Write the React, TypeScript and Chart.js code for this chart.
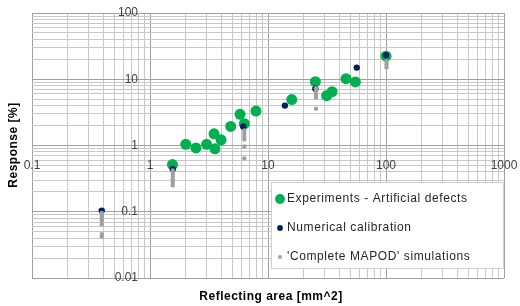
import React, { useEffect, useRef } from "react";
import { Chart, registerables } from "chart.js";

Chart.register(...registerables);

const xTickValues = [0.1, 1, 10, 100, 1000];
const xTickLabels = ["0.1", "1", "10", "100", "1000"];
const yTickValues = [0.01, 0.1, 1, 10, 100];
const yTickLabels = ["0.01", "0.1", "1", "10", "100"];

const expX = [1.55, 2.01, 2.45, 3.02, 3.49, 3.55, 4.0, 4.83, 5.79, 6.3, 7.91, 15.9, 25.2, 31.4, 34.9, 45.8, 55, 100];
const expY = [0.515, 1.04, 0.92, 1.04, 1.5, 0.89, 1.22, 1.94, 2.95, 2.13, 3.31, 4.93, 9.2, 5.66, 6.5, 10.2, 9.1, 22.3];

const calX = [0.39, 1.56, 6.17, 13.9, 25.2, 56.5, 100];
const calY = [0.104, 0.44, 1.94, 4.0, 7.2, 15, 23];

const simX = [
  0.39, 0.39, 0.39, 0.39, 0.39, 0.39, 0.39, 0.39,
  1.56, 1.56, 1.56, 1.56, 1.56, 1.56,
  6.3, 6.3, 6.3, 6.3, 6.3, 6.3,
  25.5, 25.5, 25.5, 25.5, 25.5,
  101, 101, 101,
];
const simY = [
  0.096, 0.09, 0.084, 0.078, 0.073, 0.064, 0.046, 0.042,
  0.42, 0.38, 0.34, 0.31, 0.28, 0.25,
  1.69, 1.52, 1.37, 1.23, 0.97, 0.64,
  7.3, 6.6, 5.9, 5.3, 3.6,
  18.7, 16.8, 15.2,
];

const seriesNames = ["Experiments - Artificial defects", "Numerical calibration", "'Complete MAPOD' simulations"];
const seriesColors = ["#00b050", "#002060", "#a0a0a0"];
const seriesRadius = [5.5, 3.2, 2.2];

const xTitle = "Reflecting area [mm^2]";
const yTitle = "Response [%]";

const FONT = "'Liberation Sans', Arial, sans-serif";

function logTicks(min: number, max: number) {
  const out: { value: number }[] = [];
  for (let e = Math.round(Math.log10(min)); e < Math.round(Math.log10(max)); e++) {
    for (let s = 1; s <= 9; s++) out.push({ value: s * Math.pow(10, e) });
  }
  out.push({ value: max });
  return out;
}

function isPow10(v: number) {
  const l = Math.log10(v);
  return Math.abs(l - Math.round(l)) < 1e-6;
}

const overlayPlugin = {
  id: "overlay",
  afterDatasetsDraw(chart: any) {
    const ctx = chart.ctx;
    const xs = chart.scales.x;
    const ys = chart.scales.y;
    ctx.save();
    // tick labels
    ctx.fillStyle = "#404040";
    ctx.font = `12px ${FONT}`;
    ctx.textAlign = "right";
    ctx.textBaseline = "middle";
    const xCross = xs.getPixelForValue(1);
    yTickValues.forEach((v, i) => {
      ctx.fillText(yTickLabels[i], xCross - 12, ys.getPixelForValue(v));
    });
    ctx.textAlign = "center";
    const yCross = ys.getPixelForValue(1);
    xTickValues.forEach((v, i) => {
      ctx.fillText(xTickLabels[i], xs.getPixelForValue(v), yCross + 20);
    });
    // axis titles
    ctx.fillStyle = "#000000";
    ctx.font = `bold 12px ${FONT}`;
    (ctx as any).letterSpacing = "0.5px";
    ctx.textAlign = "center";
    ctx.fillText(xTitle, 271, 297);
    ctx.save();
    ctx.translate(14, 145);
    ctx.rotate(-Math.PI / 2);
    ctx.fillText(yTitle, 0, 0);
    ctx.restore();
    // legend
    (ctx as any).letterSpacing = "0px";
    const bx = 271, by = 182, bw = 232, bh = 86;
    ctx.fillStyle = "#ffffff";
    ctx.fillRect(bx, by, bw, bh);
    ctx.strokeStyle = "#d0d0d0";
    ctx.lineWidth = 1;
    ctx.strokeRect(bx + 0.5, by + 0.5, bw, bh);
    const rows = [199, 228, 257];
    ctx.font = `12px ${FONT}`;
    (ctx as any).letterSpacing = "0.6px";
    ctx.textAlign = "left";
    ctx.textBaseline = "middle";
    seriesNames.forEach((name, i) => {
      ctx.fillStyle = seriesColors[i];
      ctx.beginPath();
      ctx.arc(280, rows[i], seriesRadius[i] * 0.9, 0, Math.PI * 2);
      ctx.fill();
      ctx.fillStyle = "#262626";
      ctx.fillText(name, 287, rows[i]);
    });
    ctx.restore();
  },
};

export default function App() {
  const ref = useRef<HTMLCanvasElement | null>(null);
  useEffect(() => {
    if (!ref.current) return;
    const mk = (xs: number[], ys: number[]) => xs.map((x, i) => ({ x, y: ys[i] }));
    const datasets = [mk(expX, expY), mk(calX, calY), mk(simX, simY)].map((data, i) => ({
      label: seriesNames[i],
      data,
      backgroundColor: seriesColors[i],
      borderColor: seriesColors[i],
      borderWidth: 0,
      pointRadius: seriesRadius[i],
      order: 3 - i,
    }));
    const gridColor = (c: any) => (c.tick && isPow10(c.tick.value) ? "#a0a0a0" : "#c8c8c8");
    const chart = new Chart(ref.current, {
      type: "scatter",
      data: { datasets },
      plugins: [overlayPlugin],
      options: {
        animation: false,
        responsive: true,
        maintainAspectRatio: false,
        layout: { padding: { left: 32, top: 13, right: 16, bottom: 28 } },
        plugins: { legend: { display: false }, tooltip: { enabled: false } },
        scales: {
          x: {
            type: "logarithmic",
            min: 0.1,
            max: 1000,
            afterBuildTicks: (s: any) => { s.ticks = logTicks(0.1, 1000); },
            ticks: { display: false },
            grid: { color: gridColor, drawTicks: false, lineWidth: 1 },
            border: { display: false },
          },
          y: {
            type: "logarithmic",
            min: 0.01,
            max: 100,
            afterBuildTicks: (s: any) => { s.ticks = logTicks(0.01, 100); },
            ticks: { display: false },
            grid: { color: gridColor, drawTicks: false, lineWidth: 1 },
            border: { display: false },
          },
        },
      },
    } as any);
    return () => chart.destroy();
  }, []);
  return (
    <div style={{ position: "fixed", left: 0, top: 0, width: 520, height: 306, background: "#fff" }}>
      <canvas ref={ref} />
    </div>
  );
}
